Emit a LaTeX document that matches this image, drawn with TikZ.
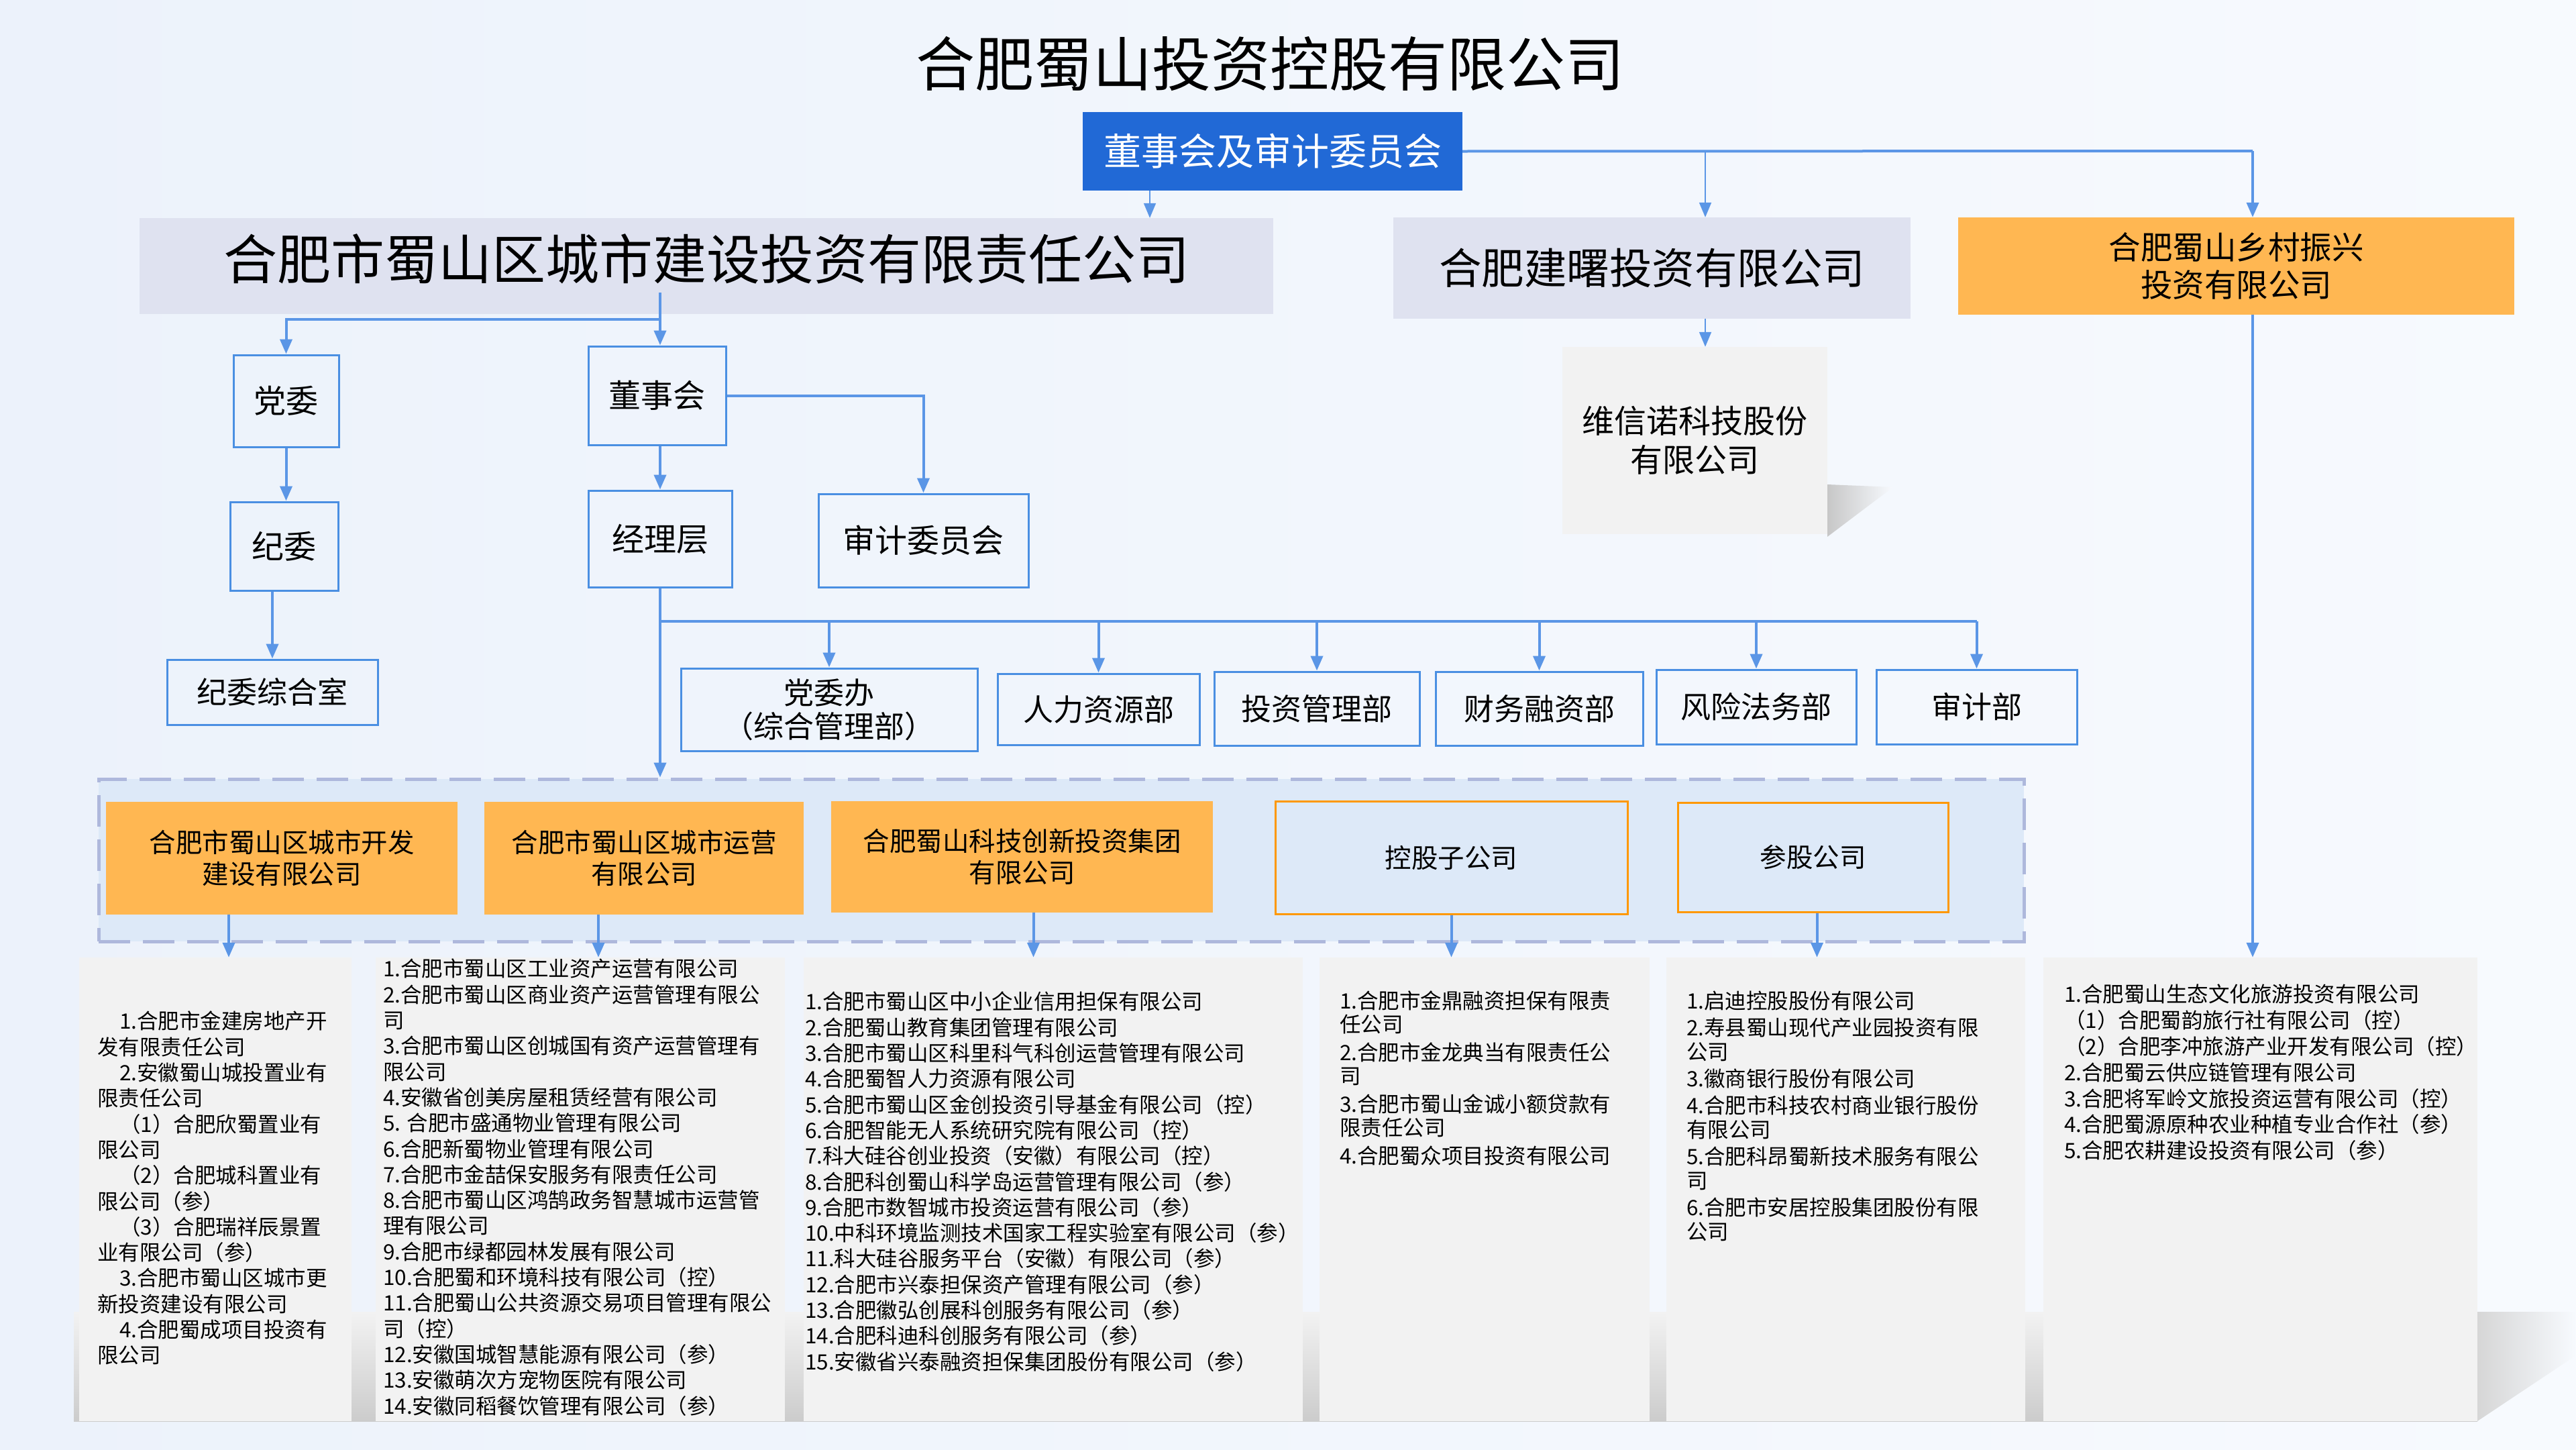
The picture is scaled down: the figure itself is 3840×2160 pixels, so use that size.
\documentclass[tikz,border=0pt]{standalone}
\usepackage{fontspec}
\setmainfont{Noto Sans CJK SC}
\usepackage{tikz}
\usetikzlibrary{arrows.meta,positioning,calc}
\definecolor{bgL}{HTML}{ECF2FB}
\definecolor{bgR}{HTML}{F7FAFE}
\definecolor{boardblue}{HTML}{2169D6}
\definecolor{lav}{HTML}{DFE2F0}
\definecolor{amber}{HTML}{FFB752}
\definecolor{amberline}{HTML}{FF9800}
\definecolor{poolfill}{HTML}{DDE9F8}
\definecolor{pooldash}{HTML}{AEB8DC}
\definecolor{sheetgray}{HTML}{F2F2F2}
\definecolor{wire}{HTML}{5B96E6}
\definecolor{boxline}{HTML}{4A8FE2}

\begin{document}
\begin{tikzpicture}[
  x=1pt, y=-1pt,
  bx/.style ={draw=boxline, line width=3pt, inner sep=0pt, align=center,
              font=\fontsize{48}{58}\selectfont},
  dpt/.style={bx, font=\fontsize{45}{50}\selectfont},
  co/.style ={fill=lav, inner sep=0pt, align=center},
  am/.style ={fill=amber, inner sep=0pt, align=center, font=\fontsize{39.5}{47}\selectfont},
  grp/.style={draw=amberline, line width=3pt, fill=poolfill, inner sep=0pt,
              font=\fontsize{39.5}{47}\selectfont},
  sht/.style={fill=sheetgray, inner sep=0pt},
  lst/.style={anchor=north west, inner sep=0pt, align=left, font=\fontsize{31.5}{38.3}\selectfont},
  ln/.style ={wire, line width=4pt},
  ar/.style ={ln, -{Triangle[length=22pt, width=18pt]}},
  art/.style={wire, line width=2pt, -{Triangle[length=22pt, width=18pt]}}
]
% =============== canvas ===============
\shade[left color=bgL, right color=bgR] (0,0) rectangle (3840,2160);
\useasboundingbox (0,0) rectangle (3840,2160);

% soft shadows behind the lower sheets and the Visionox card
\shade[top color=black!5, bottom color=black!20] (110,1955) rectangle (3693,2118);
\shade[left color=black!16, right color=bgR] (3693,1955) -- (3840,1955) -- (3840,2020) -- (3693,2118) -- cycle;
\shade[left color=black!22, right color=bgR] (2724,722) -- (2822,726) -- (2724,800) -- cycle;

% =============== top level ===============
\node[font=\fontsize{88}{100}\selectfont] (title) at (1893,95) {合肥蜀山投资控股有限公司};
\node[fill=boardblue, text=white, inner sep=0pt, minimum width=566pt, minimum height=117pt,
      font=\fontsize{56}{66}\selectfont] (board) at (1897,225.5) {董事会及审计委员会};

\node[co, minimum width=1690pt, minimum height=143pt, text height=70pt, text depth=30pt,
      font=\fontsize{80}{92}\selectfont]
  (city) at (1053,396.5) {合肥市蜀山区城市建设投资有限责任公司};
\node[co, minimum width=771pt, minimum height=151pt, font=\fontsize{63.5}{72}\selectfont]
  (jianshu) at (2462.5,399.5) {合肥建曙投资有限公司};
\node[am, minimum width=829pt, minimum height=145pt, font=\fontsize{47.5}{56}\selectfont]
  (rural) at (3333.5,396.5) {合肥蜀山乡村振兴\\投资有限公司};
\node[sht, align=center, minimum width=395pt, minimum height=279pt, font=\fontsize{48}{58}\selectfont]
  (wxn) at (2526.5,656.5) {维信诺科技股份\\有限公司};

% =============== city construction: governance ===============
\node[bx,  minimum width=157pt, minimum height=137pt] (dw)   at (426.5,597.5) {党委};
\node[bx,  minimum width=161pt, minimum height=132pt] (jw)   at (423.5,814)   {纪委};
\node[dpt, minimum width=314pt, minimum height=97pt]  (jwzh) at (406,1031.5)  {纪委综合室};
\node[bx,  minimum width=205pt, minimum height=147pt] (dsh)  at (979.5,589.5) {董事会};
\node[bx,  minimum width=214pt, minimum height=144pt] (jlc)  at (984,803)     {经理层};
\node[bx,  minimum width=313pt, minimum height=139pt] (sjw)  at (1376.5,805.5) {审计委员会};

% departments under the management
\node[dpt, minimum width=442pt, minimum height=123pt] (dwb)  at (1236,1057.5)  {党委办\\（综合管理部）};
\node[dpt, minimum width=301pt, minimum height=106pt] (hr)   at (1637.5,1057)  {人力资源部};
\node[dpt, minimum width=306pt, minimum height=110pt] (inv)  at (1963,1056)    {投资管理部};
\node[dpt, minimum width=309pt, minimum height=110pt] (fin)  at (2294.5,1056)  {财务融资部};
\node[dpt, minimum width=298pt, minimum height=111pt] (risk) at (2618,1053.5)  {风险法务部};
\node[dpt, minimum width=299pt, minimum height=111pt] (aud)  at (2946.5,1053.5) {审计部};

% =============== subsidiaries ===============
\node[fill=poolfill, draw=pooldash, line width=5pt, dash pattern=on 47pt off 19pt,
      minimum width=2870pt, minimum height=242pt, inner sep=0pt] (pool) at (1582,1282) {};
\node[am,  minimum width=524pt, minimum height=168pt] (kf) at (420,1279)    {合肥市蜀山区城市开发\\建设有限公司};
\node[am,  minimum width=476pt, minimum height=168pt] (yy) at (960,1279)    {合肥市蜀山区城市运营\\有限公司};
\node[am,  minimum width=569pt, minimum height=166pt] (kc) at (1523.5,1277) {合肥蜀山科技创新投资集团\\有限公司};
\node[grp, minimum width=525pt, minimum height=168pt] (kg) at (2163.5,1278) {控股子公司};
\node[grp, minimum width=403pt, minimum height=163pt] (cg) at (2702.5,1277.5) {参股公司};

% sheets listing the companies, one per column
\node[sht, minimum width=406pt, minimum height=691pt] (p1) at (321,1772.5)    {};
\node[sht, minimum width=610pt, minimum height=691pt] (p2) at (865,1772.5)    {};
\node[sht, minimum width=744pt, minimum height=691pt] (p3) at (1570,1772.5)   {};
\node[sht, minimum width=492pt, minimum height=691pt] (p4) at (2213,1772.5)   {};
\node[sht, minimum width=535pt, minimum height=691pt] (p5) at (2751.5,1772.5) {};
\node[sht, minimum width=647pt, minimum height=691pt] (p6) at (3369.5,1772.5) {};

\node[lst] (p1t) at (145,1507) {%
  \hspace*{33pt}1.合肥市金建房地产开\\发有限责任公司\\
  \hspace*{33pt}2.安徽蜀山城投置业有\\限责任公司\\
  \hspace*{33pt}（1）合肥欣蜀置业有\\限公司\\
  \hspace*{33pt}（2）合肥城科置业有\\限公司（参）\\
  \hspace*{33pt}（3）合肥瑞祥辰景置\\业有限公司（参）\\
  \hspace*{33pt}3.合肥市蜀山区城市更\\新投资建设有限公司\\
  \hspace*{33pt}4.合肥蜀成项目投资有\\限公司};
\node[lst] (p2t) at (571,1429) {%
  1.合肥市蜀山区工业资产运营有限公司\\
  2.合肥市蜀山区商业资产运营管理有限公\\司\\
  3.合肥市蜀山区创城国有资产运营管理有\\限公司\\
  4.安徽省创美房屋租赁经营有限公司\\
  5. 合肥市盛通物业管理有限公司\\
  6.合肥新蜀物业管理有限公司\\
  7.合肥市金喆保安服务有限责任公司\\
  8.合肥市蜀山区鸿鹄政务智慧城市运营管\\理有限公司\\
  9.合肥市绿都园林发展有限公司\\
  10.合肥蜀和环境科技有限公司（控）\\
  11.合肥蜀山公共资源交易项目管理有限公\\司（控）\\
  12.安徽国城智慧能源有限公司（参）\\
  13.安徽萌次方宠物医院有限公司\\
  14.安徽同稻餐饮管理有限公司（参）};
\node[lst] (p3t) at (1200,1478) {%
  1.合肥市蜀山区中小企业信用担保有限公司\\
  2.合肥蜀山教育集团管理有限公司\\
  3.合肥市蜀山区科里科气科创运营管理有限公司\\
  4.合肥蜀智人力资源有限公司\\
  5.合肥市蜀山区金创投资引导基金有限公司（控）\\
  6.合肥智能无人系统研究院有限公司（控）\\
  7.科大硅谷创业投资（安徽）有限公司（控）\\
  8.合肥科创蜀山科学岛运营管理有限公司（参）\\
  9.合肥市数智城市投资运营有限公司（参）\\
  10.中科环境监测技术国家工程实验室有限公司（参）\\
  11.科大硅谷服务平台（安徽）有限公司（参）\\
  12.合肥市兴泰担保资产管理有限公司（参）\\
  13.合肥徽弘创展科创服务有限公司（参）\\
  14.合肥科迪科创服务有限公司（参）\\
  15.安徽省兴泰融资担保集团股份有限公司（参）};
\node[lst, font=\fontsize{31.5}{35}\selectfont] (p4t) at (1997,1477) {%
  1.合肥市金鼎融资担保有限责\\任公司\\[7pt]
  2.合肥市金龙典当有限责任公\\司\\[7pt]
  3.合肥市蜀山金诚小额贷款有\\限责任公司\\[7pt]
  4.合肥蜀众项目投资有限公司};
\node[lst, font=\fontsize{31.5}{36}\selectfont] (p5t) at (2514,1477) {%
  1.启迪控股股份有限公司\\[4pt]
  2.寿县蜀山现代产业园投资有限\\公司\\[4pt]
  3.徽商银行股份有限公司\\[4pt]
  4.合肥市科技农村商业银行股份\\有限公司\\[4pt]
  5.合肥科昂蜀新技术服务有限公\\司\\[4pt]
  6.合肥市安居控股集团股份有限\\公司};
\node[lst, font=\fontsize{31.5}{38.8}\selectfont] (p6t) at (3077,1467) {%
  1.合肥蜀山生态文化旅游投资有限公司\\
  （1）合肥蜀韵旅行社有限公司（控）\\
  （2）合肥李冲旅游产业开发有限公司（控）\\
  2.合肥蜀云供应链管理有限公司\\
  3.合肥将军岭文旅投资运营有限公司（控）\\
  4.合肥蜀源原种农业种植专业合作社（参）\\
  5.合肥农耕建设投资有限公司（参）};

% =============== connectors ===============
% board line runs right, with a thin tap to Jianshu
\coordinate (bRight) at (3358,225);
\coordinate (bTap)   at (2542,225);
\draw[ln]  (board.east) -- (bRight);
\draw[ar]  (bRight) -- (bRight |- rural.north);
\draw[art] (bTap) -- (bTap |- jianshu.north);
\draw[art] (bTap |- jianshu.south) -- (bTap |- wxn.north);
\draw[art] ([xshift=-183pt]board.south) -- ([xshift=-183pt]board.south |- city.north);

% spine of the city construction company
\coordinate (spine) at (984,436);
\coordinate (pBus)  at (984,476);
\draw[ar] (spine) -- (spine |- dsh.north);
\draw[ar] (pBus) -| (dw.north);
\draw[ar] (dw.south) -- (dw.south |- jw.north);
\draw[ar] (jwzh.north |- jw.south) -- (jwzh.north);
\draw[ar] (dsh.south -| spine) -- (jlc.north -| spine);
\draw[ar] (dsh.east) -| (sjw.north);
\draw[ar] (jlc.south) -- (jlc.south |- pool.north);

\coordinate (dBus) at (984,926);
\draw[ln] (dBus) -- (dBus -| aud.north);
\foreach \d in {dwb,hr,inv,fin,risk,aud}
  \draw[ar] (dBus -| \d.north) -- (\d.north);

% each group box feeds the sheet below it
\draw[ar] ([xshift=-79pt]kf.south) -- ([xshift=-79pt]kf.south |- p1.north);
\draw[ar] ([xshift=-68pt]yy.south) -- ([xshift=-68pt]yy.south |- p2.north);
\draw[ar] ([xshift=17pt]kc.south)  -- ([xshift=17pt]kc.south |- p3.north);
\draw[ar] (kg.south) -- (kg.south |- p4.north);
\draw[ar] ([xshift=6pt]cg.south)   -- ([xshift=6pt]cg.south |- p5.north);
\draw[ar] (bRight |- rural.south)  -- (bRight |- p6.north);
\end{tikzpicture}
\end{document}
